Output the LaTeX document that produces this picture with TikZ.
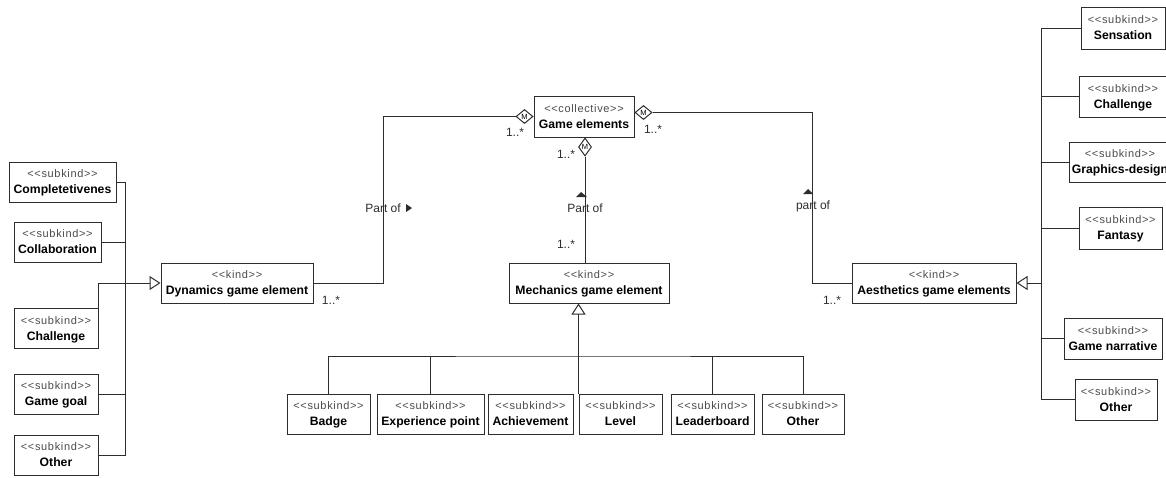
\documentclass[tikz,border=0pt]{standalone}
\usepackage{fontspec}
\setmainfont{Liberation Sans}
\newfontfamily\stfont{Liberation Sans}[LetterSpace=6, Ligatures=TeXOff]
\usepackage{tikz}
\definecolor{linegray}{RGB}{45,45,45}
\definecolor{stgray}{RGB}{75,75,75}
\usetikzlibrary{arrows.meta, shapes.geometric}
\newcommand{\ster}[1]{{\stfont\mdseries\fontsize{11}{12}\selectfont\color{stgray}<<#1>>}}

\begin{document}
\begin{tikzpicture}[x=1pt, y=-1pt, color=linegray, line width=1pt,
				box/.style={draw=linegray, fill=white, text=black, align=center, minimum height=40pt, inner sep=2pt, text depth=0pt, font=\fontsize{12.2}{16}\selectfont\bfseries},
				sub/.style={box, minimum width=83pt},
				gen/.style={-{Triangle[open, length=11pt, width=14pt]}},
				memb/.style={diamond, draw=linegray, fill=white, text=black, inner sep=0pt, minimum width=17pt, minimum height=14pt, font=\fontsize{7.5}{7.5}\selectfont},
				lbl/.style={font=\fontsize{12}{13}\selectfont, text=linegray, inner sep=0pt}]
				%Bildbereich
				\useasboundingbox (0,0) rectangle (1166,477);
				% Ganzes und Arten
				\node[box, minimum width=100pt, minimum height=41pt] (ge) at (584,116.5) {\ster{collective}\\Game elements};
				\node[box, minimum width=152pt] (dyn) at (237,283) {\ster{kind}\\Dynamics game element};
				\node[box, minimum width=160pt] (mech) at (589,283) {\ster{kind}\\Mechanics game element};
				\node[box, minimum width=164pt] (aes) at (934,283) {\ster{kind}\\Aesthetics game elements};
				% Diamanten (memberOf)
				\node[memb, anchor=east] (dl) at (ge.west) {M};
				\node[memb, anchor=west] (dr) at ([yshift=4pt]ge.east) {M};
				\node[memb, minimum width=13pt, minimum height=18pt, anchor=north] (db) at ([xshift=1pt]ge.south) {M};
				% Unterarten links
				\node[sub, minimum width=107pt] (comp) at (62.5,182) {\ster{subkind}\\Completetivenes};
				\node[sub, minimum width=87pt] (collab) at (57.5,242) {\ster{subkind}\\Collaboration};
				\node[sub, minimum width=84pt] (chal) at (56,328.5) {\ster{subkind}\\Challenge};
				\node[sub, minimum width=84pt] (goal) at (56,394) {\ster{subkind}\\Game goal};
				\node[sub, minimum width=84pt] (oth) at (56,455) {\ster{subkind}\\Other};
				% Unterarten unten
				\node[sub] (badge) at (328.5,414) {\ster{subkind}\\Badge};
				\node[sub, minimum width=107pt] (exp) at (430.5,414) {\ster{subkind}\\Experience point};
				\node[sub, minimum width=85pt] (ach) at (530.5,414) {\ster{subkind}\\Achievement};
				\node[sub] (lvl) at (620.5,414) {\ster{subkind}\\Level};
				\node[sub] (lead) at (712.5,414) {\ster{subkind}\\Leaderboard};
				\node[sub, minimum width=82pt] (moth) at (803,414) {\ster{subkind}\\Other};
				% Unterarten rechts
				\node[sub, minimum width=84pt, minimum height=42pt] (sens) at (1123,28) {\ster{subkind}\\Sensation};
				\node[sub, minimum width=88pt, minimum height=41pt] (rchal) at (1123,96.5) {\ster{subkind}\\Challenge};
				\node[sub, minimum width=102pt] (gfx) at (1120,162) {\ster{subkind}\\Graphics-design};
				\node[sub, minimum width=83pt, minimum height=42pt] (fant) at (1120.5,228) {\ster{subkind}\\Fantasy};
				\node[sub, minimum width=98pt, minimum height=41pt] (narr) at (1113,338.5) {\ster{subkind}\\Game narrative};
				\node[sub, minimum width=82pt, minimum height=41pt] (roth) at (1116,399.5) {\ster{subkind}\\Other};
				% Teil-Ganzes Beziehungen
				\draw (dyn.east) -- ++(70,0) |- (dl.west);
				\draw (aes.west) -- ++(-39,0) |- (dr.east);
				\draw (db.south) -- (db.south |- mech.north);
				% Generalisierung links
				\coordinate (lb) at (125,282);
				\draw (comp.east) -| (oth.east -| lb) -- (oth.east);
				\draw (collab.east) -- (collab.east -| lb);
				\draw (goal.east) -- (goal.east -| lb);
				\draw[gen] (chal.north east) |- (dyn.west);
				% Generalisierung unten
				\coordinate (mbus) at (580,356);
				\draw[gen] (lvl.north west) -- (mech.south -| lvl.north west);
				\draw (badge.north) |- (mbus) -| (moth.north);
				\draw (exp.north) -- (exp.north |- mbus);
				\draw (lead.north) -- (lead.north |- mbus);
				% Generalisierung rechts
				\coordinate (rb) at (1041,283);
				\draw (sens.west) -| (roth.west -| rb) -- (roth.west);
				\draw (rchal.west) -- (rchal.west -| rb);
				\draw (gfx.west) -- (gfx.west -| rb);
				\draw (fant.west) -- (fant.west -| rb);
				\draw (narr.west) -- (narr.west -| rb);
				\draw[gen] (rb) -- (aes.east);
				% Beschriftung
				\node[lbl] (m1) at (331,300) {1..*};
				\node[lbl] (m2) at (515,132) {1..*};
				\node[lbl] (m3) at (566,154) {1..*};
				\node[lbl] (m4) at (566,244) {1..*};
				\node[lbl] (m5) at (653,129) {1..*};
				\node[lbl] (m6) at (832,300) {1..*};
				\node[lbl] (pl) at (383,208) {Part of};
				\node[lbl] (pm) at (585,208) {Part of};
				\node[lbl] (pr) at (813,206) {part of};
				\fill (406,204) -- (412,208) -- (406,212) -- cycle;
				\fill (576,197) -- (581,192) -- (587,197) -- cycle;
				\fill (803,194) -- (808,189) -- (813,194) -- cycle;
\end{tikzpicture}
\end{document}
